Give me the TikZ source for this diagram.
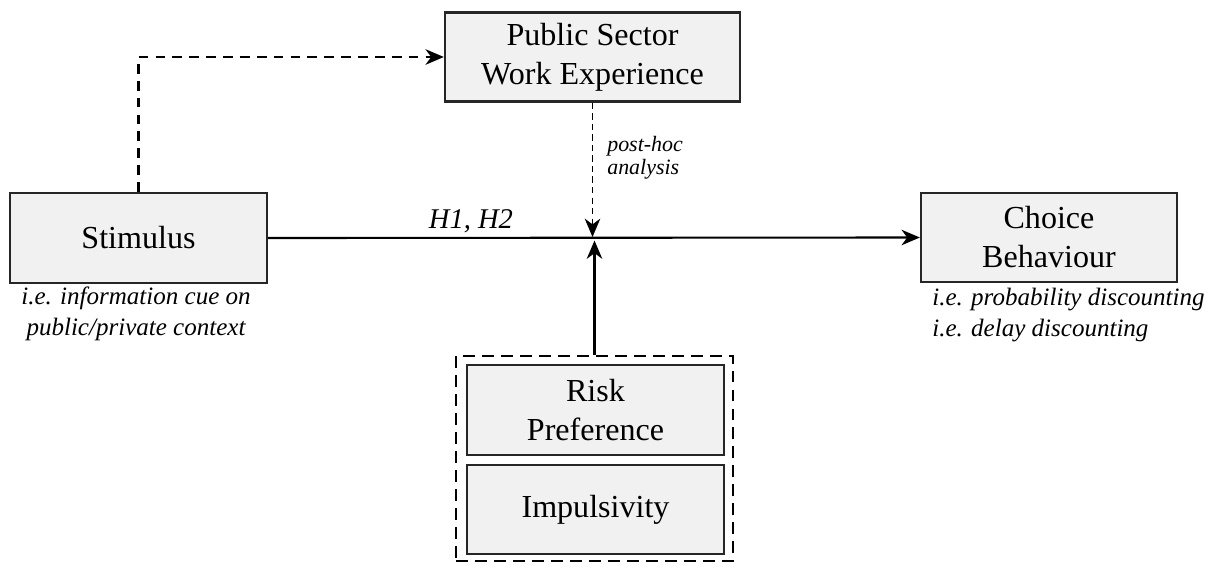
\documentclass[tikz,border=0pt]{standalone}
\usepackage{fontspec}
\setmainfont{Liberation Serif}
\usetikzlibrary{arrows.meta}
\definecolor{boxfill}{RGB}{241,241,241}
\begin{document}
\begin{tikzpicture}[x=0.025cm,y=-0.025cm,
  box/.style={draw=black!85, line width=1.6pt, fill=boxfill, inner sep=0pt, align=center,
    font=\fontsize{22.8}{27.7}\selectfont},
  lbl/.style={inner sep=0pt, font=\fontsize{17.8}{21.7}\selectfont\itshape},
  tip/.style={-{Stealth[length=13pt,width=11pt,inset=4pt]}},
  conn/.style={line width=1.5pt, tip},
  dashA/.style={line width=1.6pt, dash pattern=on 7pt off 5pt, tip},
  dashB/.style={line width=1.3pt, dash pattern=on 4.5pt off 3pt, tip},
  grpbox/.style={draw=black, line width=1.5pt, dash pattern=on 8.5pt off 5pt, inner sep=0pt}]
\useasboundingbox (0,0) rectangle (1220,566);
% boxes
\node[box, minimum width=6.425cm, minimum height=2.25cm] (stim) at (138.5,238) {Stimulus};
\node[box, minimum width=7.375cm, minimum height=2.225cm] (pub) at (592.5,57) {Public Sector\\Work Experience};
\node[box, minimum width=6.4cm, minimum height=2.225cm] (choice) at (1049,237.5) {Choice\\Behaviour};
\node[grpbox, minimum width=6.925cm, minimum height=5.125cm] (grp) at (594.5,458.5) {};
\node[box, minimum width=6.425cm, minimum height=2.25cm] (risk) at (595.5,410) {Risk\\Preference};
\node[box, minimum width=6.425cm, minimum height=2.225cm] (imp) at (595.5,509.5) {Impulsivity};
% labels
\node[lbl, align=center] (stimlbl) at (136,314) {i.e. information cue on\\public/private context};
\node[lbl, align=left, anchor=west] (choicelbl) at (932,315) {i.e. probability discounting\\i.e. delay discounting};
\node[inner sep=0pt, anchor=base, font=\fontsize{20.3}{24}\selectfont\itshape] (hlbl) at (471,228) {H1, H2};
\node[inner sep=0pt, align=left, anchor=west, font=\fontsize{15.6}{16.4}\selectfont\itshape] (phlbl) at (607,158) {post-hoc\\analysis};
% junction points
\coordinate (jtop) at (592.5,237);
\coordinate (jbot) at (594.5,240.5);
% connectors
\draw[dashA] (stim.north) |- (pub.west);
\draw[conn] (stim.east) -- (choice.west);
\draw[dashB] (pub.south) -- (jtop);
\draw[conn] (grp.north) -- (jbot);
\end{tikzpicture}
\end{document}
